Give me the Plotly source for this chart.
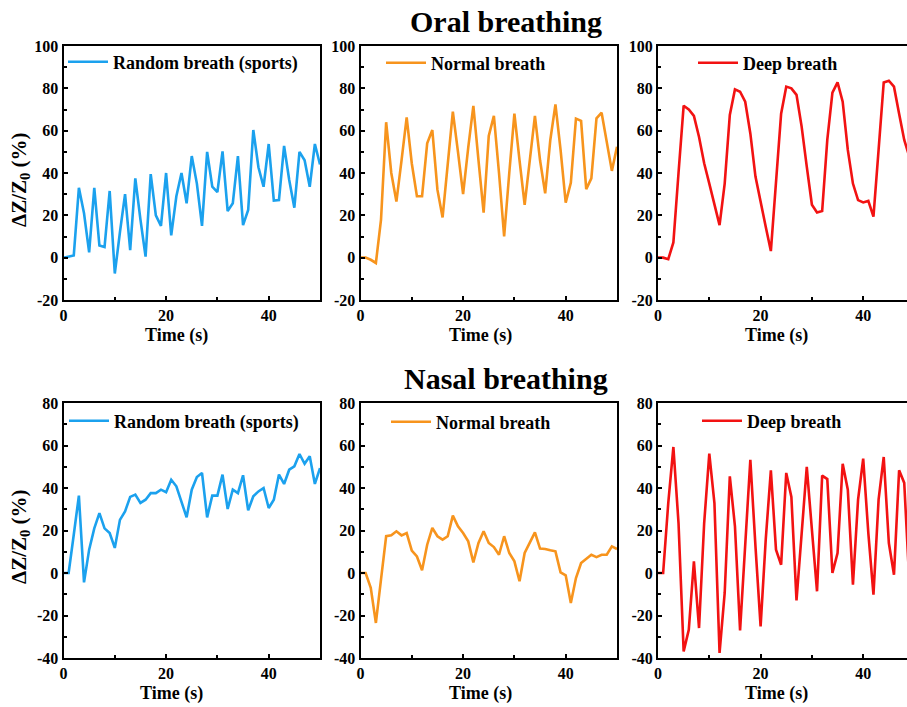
import plotly.graph_objects as go

# ---------------- data ----------------
time_s = list(range(0, 51))

oral_random = [0, 0.5, 1, 33, 21, 2.5, 33, 5.7, 5, 31.5, -7.5, 12, 30, 3.6, 37.5, 18, 0.5, 39.5, 20, 15,
               40, 10.5, 29, 40, 25.7, 48, 35, 15, 50, 33.5, 31, 50.2, 22, 25.7, 48, 15.4, 22.5, 60.3, 42.7,
               33.5, 53.7, 27, 27.2, 52.8, 36.7, 23.6, 50, 46, 33.5, 53.7, 44]
oral_normal = [0, 0, -1, -2.5, 18, 64, 40, 26.5, 46, 66.3, 44.5, 29, 29, 54, 60.3, 32, 19, 43, 69, 50,
               30, 52, 71.7, 46, 21.3, 57.5, 67, 40, 10, 40, 68, 46, 25, 46, 67, 46, 30.4, 55.6, 72.4, 50.9,
               26, 35.4, 65.7, 64.6, 32.4, 37.5, 65.8, 68.5, 55.6, 41, 52.4]
oral_deep = [0, 0, -0.7, 7.2, 40, 71.8, 70, 67, 57, 44.6, 35, 25, 15.4, 35, 67.4, 79.5, 78.4, 73.7, 58.7, 38.3,
             25.7, 14.6, 3.1, 35, 68, 80.8, 80, 76.9, 61.9, 43, 25, 21.3, 22, 55.6, 78, 82.8, 73.7, 50.9, 35,
             27.2, 26.1, 26.8, 19.4, 50.9, 82.8, 83.6, 80.8, 68, 55.6, 47.7, 40]

nasal_random = [0, 0, 18, 36.4, -4.4, 11, 21, 28.2, 21, 18.8, 11.8, 25, 29, 35.8, 36.9, 33, 34.5, 37.6, 37.6,
                39.2, 38, 43.9, 40.8, 33, 26.2, 39.2, 45.2, 47.1, 26.2, 36.4, 36.4, 46.3, 30.1, 39.2, 37.6,
                46, 29.5, 36.1, 38.4, 40, 30.6, 34.5, 46.3, 41.9, 48.6, 50.2, 56, 51.4, 54.9, 41.9, 49.4]
nasal_normal = [0, 0, -7, -23.5, -3, 17.3, 17.7, 19.6, 17.7, 18.8, 10.5, 7.8, 1.3, 13.3, 21.2, 17.3, 15.7,
                17.3, 27, 22, 18.8, 14.9, 5, 14.1, 19.6, 14.1, 12.2, 8.6, 17.3, 9.4, 5.5, -3.9, 9.4, 14.4,
                19.1, 11.5, 11.3, 10.7, 10.2, 0.3, -1.1, -14.1, -2.4, 4.7, 6.6, 8.6, 7.5, 8.6, 8.6, 12.5, 11.3]
nasal_deep = [0, 0, 32.9, 59.3, 23.5, -36.9, -26.7, 5.5, -25.9, 23.5, 56.2, 32.9, -37.6, -9.4, 45.5, 22,
              -27, 13, 53.3, 12.5, -25.1, 15.7, 48.3, 11, 3.9, 47.1, 35.8, -12.9, 20.4, 49.9, 20.4, -8.6,
              45.8, 44.2, 0, 9.4, 51.4, 39.2, -5.5, 34.5, 53.8, 18.8, -10.2, 34.5, 54.6, 14.1, -0.8, 48.3,
              42.4, -4.7, 23.5]

series_names = ["Random breath (sports)", "Normal breath", "Deep breath"]
row_titles = ["Oral breathing", "Nasal breathing"]
x_tickvals = [0, 20, 40]
x_ticktext = ["0", "20", "40"]
row1_yticks = [-20, 0, 20, 40, 60, 80, 100]
row2_yticks = [-40, -20, 0, 20, 40, 60, 80]
y_title = "ΔZ/Z<sub>0</sub> (%)"
x_title = "Time (s)"

# ---------------- styling ----------------
W, H = 907, 707
FONT = "Liberation Serif, Times New Roman, serif"
colors = ["#1BA1EE", "#F7941D", "#F21212"]

col_px = [(63.5, 320), (360.5, 617), (658, 907)]
row_px = [(46, 300), (403, 658)]
px_per_unit = (320 - 63.5) / 50.0
ITEMW = 40

def xd(a, b):
    return [a / W, b / W]

def yd(top, bot):
    return [1 - bot / H, 1 - top / H]

data = [[oral_random, oral_normal, oral_deep], [nasal_random, nasal_normal, nasal_deep]]
yticks = [row1_yticks, row2_yticks]
yranges = [[-20, 100], [-40, 80]]

fig = go.Figure()
layout = dict(width=W, height=H, margin=dict(l=0, r=0, t=0, b=0, autoexpand=False),
              paper_bgcolor="white", plot_bgcolor="white", showlegend=True,
              font=dict(family=FONT, color="black"))
annotations = []

legend_text_x = [[113, 431, 743], [114, 436, 747]]
legend_y = [[62, 63, 63], [421, 422, 421]]
xtitle_cx = [[176, 480, 776], [171, 480, 776]]
xtitle_cy = [335, 693]
ytitle_cy = [180, 537]

k = 0
for r in range(2):
    for c in range(3):
        k += 1
        xa = "xaxis" if k == 1 else f"xaxis{k}"
        ya = "yaxis" if k == 1 else f"yaxis{k}"
        xr = "x" if k == 1 else f"x{k}"
        yr = "y" if k == 1 else f"y{k}"
        lg = "legend" if k == 1 else f"legend{k}"
        x0, x1 = col_px[c]
        top, bot = row_px[r]
        xmax = 50 if c < 2 else (x1 - x0) / px_per_unit
        fig.add_trace(go.Scatter(x=time_s, y=data[r][c], mode="lines", name=series_names[c],
                                 line=dict(color=colors[c], width=2.6), xaxis=xr, yaxis=yr,
                                 legend=lg, cliponaxis=True))
        layout[xa] = dict(domain=xd(x0, x1), range=[0, xmax], anchor=yr,
                          showline=True, linecolor="black", linewidth=2, mirror=True,
                          ticks="inside", ticklen=4, tickwidth=2, tickcolor="black",
                          tickvals=x_tickvals, ticktext=x_ticktext,
                          minor=dict(tickvals=[10, 30, 50], ticks="inside", ticklen=3, tickwidth=1.5,
                                     tickcolor="black"),
                          tickfont=dict(family=FONT, size=16, color="black", weight="bold"),
                          showgrid=False, zeroline=False, fixedrange=True, automargin=False)
        ymin, ymaxv = yranges[r]
        layout[ya] = dict(domain=yd(top, bot), range=[ymin, ymaxv], anchor=xr,
                          showline=True, linecolor="black", linewidth=2, mirror=(c < 2),
                          ticks="inside", ticklen=4, tickwidth=2, tickcolor="black",
                          tickvals=yticks[r], ticktext=[str(v) for v in yticks[r]],
                          minor=dict(tickvals=[v + 10 for v in yticks[r][:-1]], ticks="inside",
                                     ticklen=3, tickwidth=1.5, tickcolor="black"),
                          tickfont=dict(family=FONT, size=16, color="black", weight="bold"),
                          showgrid=False, zeroline=False, fixedrange=True, automargin=False)
        layout[lg] = dict(x=(legend_text_x[r][c] - ITEMW - 10) / W, xanchor="left",
                          y=1 - legend_y[r][c] / H, yanchor="middle", itemwidth=ITEMW,
                          bgcolor="rgba(0,0,0,0)", borderwidth=0,
                          font=dict(family=FONT, size=18, color="black", weight="bold"),
                          tracegroupgap=0)
        annotations.append(dict(text=x_title, xref="paper", yref="paper",
                                x=xtitle_cx[r][c] / W, y=1 - xtitle_cy[r] / H,
                                xanchor="center", yanchor="middle", showarrow=False,
                                font=dict(family=FONT, size=18, color="black", weight="bold")))
    annotations.append(dict(text=y_title, xref="paper", yref="paper", textangle=-90,
                            x=20 / W, y=1 - ytitle_cy[r] / H, xanchor="center", yanchor="middle",
                            showarrow=False,
                            font=dict(family=FONT, size=21, color="black", weight="bold")))
    annotations.append(dict(text=row_titles[r], xref="paper", yref="paper",
                            x=506 / W, y=1 - (22 if r == 0 else 378) / H,
                            xanchor="center", yanchor="middle", showarrow=False,
                            font=dict(family=FONT, size=30, color="black", weight="bold")))

layout["annotations"] = annotations
fig.update_layout(**layout)
fig.write_html("out.html")
